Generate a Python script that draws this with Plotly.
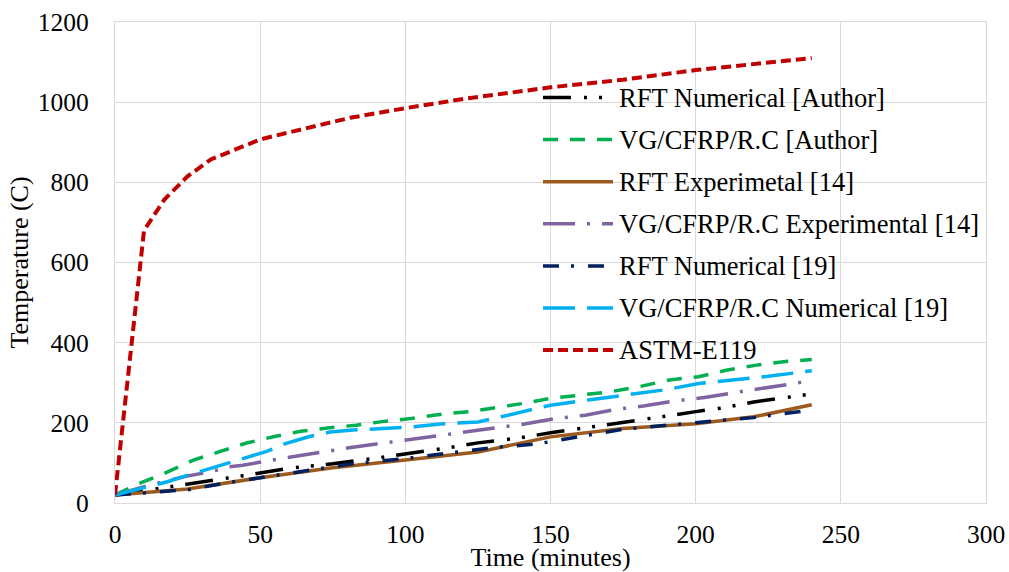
import plotly.graph_objects as go

# ---------------- data ----------------
names = [
    "RFT Numerical [Author]",
    "VG/CFRP/R.C [Author]",
    "RFT Experimetal [14]",
    "VG/CFRP/R.C Experimental [14]",
    "RFT Numerical [19]",
    "VG/CFRP/R.C Numerical [19]",
    "ASTM-E119",
]

rft_num_author_t = [0, 19, 25, 45, 60, 75, 90, 100, 115, 125, 140, 150, 165, 180, 190, 200, 210, 220, 230, 240]
rft_num_author_T = [20, 40, 47, 69, 87, 98, 112, 122, 138, 150, 163, 175, 190, 205, 217, 228, 238, 252, 262, 272]

vg_author_t = [0, 8, 17, 27, 36, 45, 55, 64, 74, 83, 92, 102, 114, 122, 142, 150, 160, 171, 181, 191, 201, 211, 221, 231, 240]
vg_author_T = [20, 48, 74, 107, 128, 149, 166, 179, 188, 194, 203, 211, 223, 228, 250, 261, 269, 278, 291, 307, 315, 332, 344, 353, 358]

rft_exp14_t = [0, 25, 50, 75, 100, 125, 150, 175, 200, 220, 240]
rft_exp14_T = [20, 35, 63, 88, 107, 127, 165, 186, 198, 215, 245]

vg_exp14_t = [0, 12, 24, 33, 39, 44, 54, 59, 64, 74, 80, 90, 100, 110, 121, 131, 141, 151, 162, 172, 182, 192, 203, 213, 223, 233, 240]
vg_exp14_T = [20, 45, 66, 78, 90, 94, 107, 113, 119, 132, 137, 147, 157, 168, 177, 188, 197, 210, 219, 233, 242, 254, 263, 275, 286, 298, 305]

rft_num19_t = [0, 25, 40, 60, 80, 100, 115, 130, 145, 160, 175, 190, 205, 220, 240]
rft_num19_T = [20, 33, 52, 75, 96, 111, 125, 138, 147, 165, 184, 194, 203, 213, 232]

vg_num19_t = [0, 18, 29, 38, 44, 52, 59, 67, 74, 82, 97, 103, 112, 125, 133, 141, 150, 163, 179, 190, 201, 213, 225, 240]
vg_num19_T = [20, 53, 78, 98, 111, 128, 149, 166, 177, 182, 188, 190, 197, 202, 215, 228, 244, 257, 273, 283, 298, 307, 316, 330]

astm_t = [0, 10, 17, 20, 25, 33, 44, 50, 59, 71, 81, 100, 120, 150, 175, 200, 220, 240]
astm_T = [20, 680, 757, 780, 815, 857, 890, 907, 923, 944, 961, 985, 1008, 1037, 1056, 1080, 1095, 1110]

x_ticks = [0, 50, 100, 150, 200, 250, 300]
y_ticks = [0, 200, 400, 600, 800, 1000, 1200]

# ---------------- styles ----------------
colors = ["#000000", "#00B050", "#9C5A1E", "#8064A2", "#002060", "#00B0F0", "#C00000"]
dashes = [
    "28px,13px,3px,12px,3px,12px",
    "15px,12px",
    "solid",
    "32px,12px,3px,12px",
    "16px,12px,3px,14px",
    "32px,12px",
    "10px,5px",
]
widths = [3.5, 3.5, 3.5, 3.5, 3.5, 3.5, 4]

series = [
    (rft_num_author_t, rft_num_author_T),
    (vg_author_t, vg_author_T),
    (rft_exp14_t, rft_exp14_T),
    (vg_exp14_t, vg_exp14_T),
    (rft_num19_t, rft_num19_T),
    (vg_num19_t, vg_num19_T),
    (astm_t, astm_T),
]

FONT = "Liberation Serif"

fig = go.Figure()
for (t, T), name, c, d, w in zip(series, names, colors, dashes, widths):
    fig.add_trace(go.Scatter(
        x=t, y=T, mode="lines", name=name,
        line=dict(color=c, dash=d, width=w),
        showlegend=False,
    ))

# ---------------- layout geometry ----------------
FW, FH = 1009, 572
L, R, TOP, BOT = 115, 986, 22, 503
W, H = R - L, BOT - TOP


def px(xp):
    return (xp - L) / W


def py(yp):
    return (BOT - yp) / H


# ---------------- custom legend (paper coordinates) ----------------
row0, gap = 97.5, 42.1
for i, (name, c, d, w) in enumerate(zip(names, colors, dashes, widths)):
    yy = py(row0 + i * gap)
    fig.add_shape(type="line", xref="paper", yref="paper",
                  x0=px(543), x1=px(613), y0=yy, y1=yy,
                  line=dict(color=c, dash=d, width=w))
    fig.add_annotation(xref="paper", yref="paper", x=px(617), y=yy,
                       text=name, showarrow=False, xanchor="left", yanchor="middle",
                       font=dict(family=FONT, size=26.5, color="black"))

fig.update_layout(
    width=FW, height=FH,
    margin=dict(l=L, r=FW - R, t=TOP, b=FH - BOT),
    plot_bgcolor="white", paper_bgcolor="white",
    font=dict(family=FONT, size=25.5, color="black"),
)
fig.update_xaxes(
    range=[0, 300], tickvals=x_ticks, ticktext=[str(v) for v in x_ticks],
    showgrid=True, gridcolor="#d9d9d9", gridwidth=1.3,
    showline=True, linecolor="#d9d9d9", linewidth=1.3, mirror=True,
    zeroline=False, ticks="", ticklabelstandoff=8,
    tickfont=dict(family=FONT, size=25.5),
    title=dict(text="Time (minutes)", standoff=0, font=dict(family=FONT, size=26)),
    automargin=False,
)
fig.update_yaxes(
    range=[0, 1200], tickvals=y_ticks, ticktext=[str(v) for v in y_ticks],
    showgrid=True, gridcolor="#d9d9d9", gridwidth=1.3,
    showline=True, linecolor="#d9d9d9", linewidth=1.3, mirror=True,
    zeroline=False, ticks="", ticklabelstandoff=20,
    tickfont=dict(family=FONT, size=25.5),
    title=dict(text="Temperature (C)", standoff=1, font=dict(family=FONT, size=26)),
    automargin=False,
)

fig.write_html(
    "out.html",
    config={"displayModeBar": False},
    post_script="document.body.style.margin='0';document.body.style.overflow='hidden';",
)
